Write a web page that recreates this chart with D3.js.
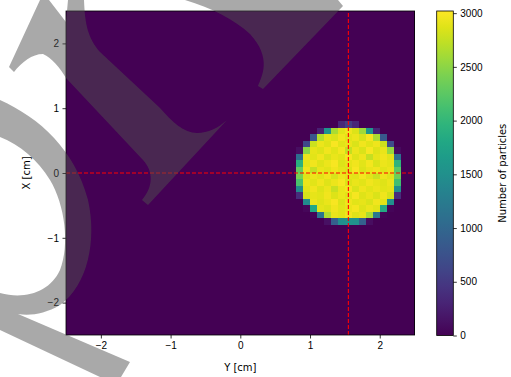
<!DOCTYPE html>
<html>
<head>
<meta charset="utf-8">
<script src="https://cdn.jsdelivr.net/npm/d3@7"></script>
<style>
  body { margin: 0; background: #fff; }
  svg { display: block; font-family: "DejaVu Sans", sans-serif; }
  .axis text { font-size: 10px; fill: #000; }
  .axis path, .axis line { stroke: #000; stroke-width: 0.8; }
</style>
</head>
<body>
<svg id="chart" width="511" height="377"></svg>
<script>
// histogram of particle hits, bins of 0.1 cm from -2.5 to 2.5 on both axes
var binWidth = 0.1;
var yRange = [-2.5, 2.5];   // horizontal axis (Y)
var xRange = [-2.5, 2.5];   // vertical axis (X)

// non-empty part of the histogram: left edges of Y bins, upper edges of X bins
var spotY = [0.8, 0.9, 1.0, 1.1, 1.2, 1.3, 1.4, 1.5, 1.6, 1.7, 1.8, 1.9, 2.0, 2.1, 2.2];
var spotX = [0.8, 0.7, 0.6, 0.5, 0.4, 0.3, 0.2, 0.1, 0.0, -0.1, -0.2, -0.3, -0.4, -0.5, -0.6, -0.7];
var counts = [
  [0, 0, 0, 0, 0, 0, 320, 540, 330, 0, 0, 0, 0, 0, 0],
  [0, 0, 0, 280, 1560, 2640, 2880, 2950, 2860, 2590, 1600, 300, 0, 0, 0],
  [0, 0, 790, 2680, 2900, 2850, 2960, 2890, 2930, 2840, 2980, 2640, 830, 0, 0],
  [0, 650, 2780, 2930, 2870, 2990, 2880, 2920, 2850, 2960, 2890, 2940, 2790, 690, 0],
  [110, 2500, 2910, 2860, 2950, 2890, 2970, 2760, 2930, 2850, 2990, 2870, 2920, 2540, 90],
  [1080, 2930, 2880, 2960, 2850, 2920, 2890, 2980, 2870, 2940, 2760, 2910, 2950, 2890, 1130],
  [1900, 2880, 2950, 2870, 2930, 2990, 2860, 2910, 2950, 2880, 2970, 2850, 2930, 2900, 1950],
  [2300, 2940, 2760, 2920, 2880, 2950, 2900, 2870, 2990, 2860, 2920, 2950, 2880, 2930, 2250],
  [2400, 2870, 2930, 2890, 2960, 2850, 2940, 2910, 2880, 2970, 2890, 2780, 2940, 2880, 2350],
  [2150, 2920, 2880, 2950, 2870, 2930, 2990, 2860, 2920, 2880, 2950, 2910, 2870, 2930, 2100],
  [1450, 2890, 2950, 2860, 2930, 2770, 2920, 2970, 2850, 2940, 2890, 2930, 2880, 2910, 1500],
  [380, 2820, 2910, 2880, 2950, 2860, 2930, 2890, 2980, 2870, 2920, 2850, 2940, 2830, 400],
  [0, 1460, 2930, 2870, 2920, 2990, 2860, 2940, 2880, 2910, 2850, 2960, 2890, 1500, 0],
  [0, 50, 1800, 2900, 2860, 2950, 2880, 2920, 2970, 2870, 2930, 2890, 1840, 40, 0],
  [0, 0, 40, 1170, 2660, 2920, 2880, 2950, 2870, 2910, 2630, 1210, 30, 0, 0],
  [0, 0, 0, 0, 120, 900, 1480, 1540, 1500, 930, 100, 0, 0, 0, 0]
];

// beam centre cross hair
var centreY = 1.55;
var centreX = 0;

var axisTicks = [-2, -1, 0, 1, 2];
var colorMax = 3020;
var colorTicks = [0, 500, 1000, 1500, 2000, 2500, 3000];

var svg = d3.select("#chart");

var plot = {left: 66, right: 414.6, top: 11, bottom: 335};
var x = d3.scaleLinear().domain(yRange).range([plot.left, plot.right]);
var y = d3.scaleLinear().domain(xRange).range([plot.bottom, plot.top]);
var color = d3.scaleSequential(d3.interpolateViridis).domain([0, colorMax]);
var fmt = d3.format("d");

// full grid, zero where nothing was counted
var nY = Math.round((yRange[1] - yRange[0]) / binWidth);
var nX = Math.round((xRange[1] - xRange[0]) / binWidth);
var cells = [];
for (var i = 0; i < nY; i++) {
  for (var j = 0; j < nX; j++) {
    var y0 = yRange[0] + i * binWidth;
    var x1 = xRange[1] - j * binWidth;
    var ci = spotY.findIndex(function (v) { return Math.abs(v - y0) < 1e-6; });
    var rj = spotX.findIndex(function (v) { return Math.abs(v - x1) < 1e-6; });
    var n = (ci >= 0 && rj >= 0) ? counts[rj][ci] : 0;
    cells.push({y0: y0, x1: x1, n: n});
  }
}

// snap cell edges to whole pixels so neighbouring bins meet without seams
svg.append("g")
  .attr("shape-rendering", "crispEdges")
  .selectAll("rect")
  .data(cells)
  .join("rect")
  .attr("x", function (d) { return Math.round(x(d.y0)); })
  .attr("y", function (d) { return Math.round(y(d.x1)); })
  .attr("width", function (d) { return Math.round(x(d.y0 + binWidth)) - Math.round(x(d.y0)); })
  .attr("height", function (d) { return Math.round(y(d.x1 - binWidth)) - Math.round(y(d.x1)); })
  .attr("fill", function (d) { return color(d.n); });

// cross hair
svg.append("line")
  .attr("x1", x(centreY)).attr("x2", x(centreY))
  .attr("y1", y(xRange[0])).attr("y2", y(xRange[1]))
  .attr("stroke", "#ff0000").attr("stroke-width", 1.1)
  .attr("stroke-dasharray", "4,2");
svg.append("line")
  .attr("x1", x(yRange[0])).attr("x2", x(yRange[1]))
  .attr("y1", y(centreX)).attr("y2", y(centreX))
  .attr("stroke", "#ff0000").attr("stroke-width", 1.1)
  .attr("stroke-dasharray", "4,2");

svg.append("rect")
  .attr("x", plot.left).attr("y", plot.top)
  .attr("width", plot.right - plot.left).attr("height", plot.bottom - plot.top)
  .attr("fill", "none").attr("stroke", "#000").attr("stroke-width", 0.8);

var xAxis = d3.axisBottom(x).tickValues(axisTicks).tickFormat(fmt).tickSize(3.5).tickPadding(3.5);
svg.append("g").attr("class", "axis")
  .attr("transform", "translate(0," + plot.bottom + ")")
  .call(xAxis)
  .call(function (g) { g.select(".domain").remove(); });

var yAxis = d3.axisLeft(y).tickValues(axisTicks).tickFormat(fmt).tickSize(3.5).tickPadding(3.5);
svg.append("g").attr("class", "axis")
  .attr("transform", "translate(" + plot.left + ",0)")
  .call(yAxis)
  .call(function (g) { g.select(".domain").remove(); });

svg.append("text")
  .attr("x", (plot.left + plot.right) / 2).attr("y", 371)
  .attr("text-anchor", "middle").attr("font-size", 10)
  .text("Y [cm]");

svg.append("text")
  .attr("transform", "translate(30," + ((plot.top + plot.bottom) / 2) + ") rotate(-90)")
  .attr("text-anchor", "middle").attr("font-size", 10)
  .text("X [cm]");

// colour bar
var bar = {left: 436.7, width: 16.6, top: 11, bottom: 335.5};
var cy = d3.scaleLinear().domain([0, colorMax]).range([bar.bottom, bar.top]);

var grad = svg.append("defs").append("linearGradient")
  .attr("id", "viridis").attr("x1", 0).attr("y1", 1).attr("x2", 0).attr("y2", 0);
d3.range(0, 1.0001, 0.05).forEach(function (t) {
  grad.append("stop").attr("offset", t).attr("stop-color", d3.interpolateViridis(t));
});

svg.append("rect")
  .attr("x", bar.left).attr("y", bar.top)
  .attr("width", bar.width).attr("height", bar.bottom - bar.top)
  .attr("fill", "url(#viridis)")
  .attr("stroke", "#000").attr("stroke-width", 0.8);

var cAxis = d3.axisRight(cy).tickValues(colorTicks).tickFormat(fmt).tickSize(3.5).tickPadding(3.5);
svg.append("g").attr("class", "axis")
  .attr("transform", "translate(" + (bar.left + bar.width) + ",0)")
  .call(cAxis)
  .call(function (g) { g.select(".domain").remove(); });

svg.append("text")
  .attr("transform", "translate(505.5," + ((bar.top + bar.bottom) / 2) + ") rotate(-90)")
  .attr("text-anchor", "middle").attr("font-size", 10)
  .text("Number of particles");

// grey watermark lying over the figure
var watermark = [
  "M40,0 L49,0 L66,22 L68,0 L84,0 C85,25 88,38 100,52 L160,108 C172,122 184,133 197,133 C208,133 218,128 227,120 L148,205 L142,200 C153,187 154,172 143,160 L66,78 C60,68 52,58 43,54 C32,54 22,62 14,72 L9,67 Z",
  "M185,0 L338,0 L343,6 L263,89 L258,86 C262,76 272,58 250,34 C235,20 212,8 185,0 Z",
  "M0,100 C40,118 75,150 88,200 C97,240 88,285 60,305 C45,314 30,316 18,314 L130,362 L121,377 L100,377 L0,330 L0,293 C25,300 50,292 60,270 C70,245 65,205 50,180 C38,160 20,145 0,137 Z"
];
svg.append("g")
  .selectAll("path")
  .data(watermark)
  .join("path")
  .attr("d", function (d) { return d; })
  .attr("fill", "rgb(80,80,80)")
  .attr("fill-opacity", 0.49);
</script>
</body>
</html>
